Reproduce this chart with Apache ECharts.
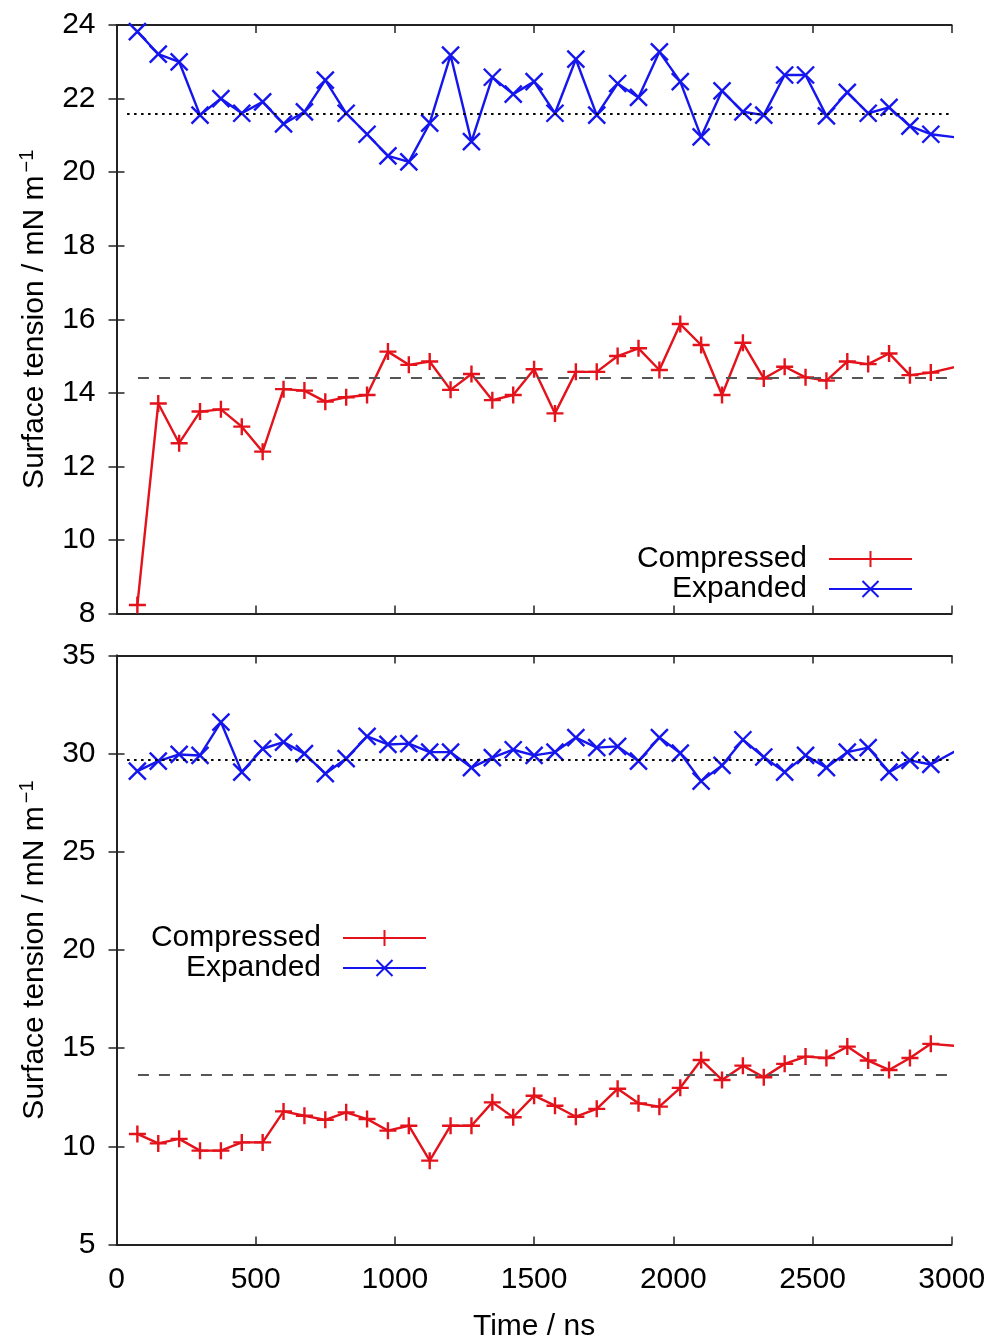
<!DOCTYPE html>
<html>
<head>
<meta charset="utf-8">
<script src="https://cdn.jsdelivr.net/npm/echarts@6/dist/echarts.min.js"></script>
<style>
html,body{margin:0;padding:0;background:#fff;}
#chart{width:995px;height:1338px;}
</style>
</head>
<body>
<div id="chart"></div>
<script>
// ---- data ----
const TIME = [75,150,225,300,375,450,525,600,675,750,825,900,975,1050,1125,1200,1275,1350,1425,1500,
              1575,1650,1725,1800,1875,1950,2025,2100,2175,2250,2325,2400,2475,2550,2625,2700,2775,2850,2925,3075];

const TOP_EXPANDED = [23.82,23.21,23.0,21.55,22.0,21.6,21.91,21.31,21.64,22.5,21.6,21.03,20.44,20.28,21.33,23.18,20.83,22.58,22.12,22.46,
                      21.6,23.07,21.55,22.41,22.03,23.27,22.46,20.96,22.21,21.64,21.55,22.64,22.64,21.53,22.17,21.6,21.76,21.25,21.03,20.89];
const TOP_COMPRESSED = [8.23,13.71,12.63,13.49,13.55,13.08,12.40,14.10,14.06,13.76,13.88,13.94,15.12,14.76,14.85,14.08,14.51,13.80,13.94,14.64,
                        13.44,14.57,14.57,15.0,15.21,14.62,15.87,15.30,13.94,15.36,14.39,14.71,14.42,14.33,14.85,14.78,15.07,14.48,14.55,14.81];
const BOTTOM_EXPANDED = [29.11,29.62,29.96,29.91,31.61,29.06,30.25,30.59,30.0,28.98,29.75,30.88,30.47,30.51,30.08,30.08,29.29,29.8,30.2,29.91,
                         30.08,30.82,30.31,30.37,29.62,30.82,30.03,28.6,29.4,30.71,29.83,29.06,29.91,29.29,30.08,30.31,29.06,29.66,29.45,30.61];
const BOTTOM_COMPRESSED = [10.63,10.15,10.38,9.78,9.78,10.2,10.2,11.78,11.56,11.35,11.73,11.39,10.8,11.05,9.27,11.05,11.05,12.24,11.48,12.58,
                           12.07,11.51,11.91,12.93,12.19,12.02,12.98,14.4,13.38,14.11,13.52,14.2,14.57,14.5,15.08,14.37,13.89,14.5,15.22,15.04];

const TOP_EXPANDED_MEAN = 21.6;
const TOP_COMPRESSED_MEAN = 14.4;
const BOTTOM_EXPANDED_MEAN = 29.7;
const BOTTOM_COMPRESSED_MEAN = 13.65;
const MEAN_START_EXPANDED = 38;
const MEAN_START_COMPRESSED = 77;

const X_RANGE = [0, 3000, 500];
const TOP_Y_RANGE = [8, 24, 2];
const BOTTOM_Y_RANGE = [5, 35, 5];

const NAMES = ['Compressed', 'Expanded'];
const X_TITLE = 'Time / ns';
const Y_TITLE = 'Surface tension / mN m{sup|\u22121}';

// ---- styling ----
const RED = '#e3121b';
const BLUE = '#1515ee';
const FONT = "'Liberation Sans', Arial, Helvetica, sans-serif";
const PLUS = 'path://M5,0L5,10M0,5L10,5';
const CROSS = 'path://M0,0L10,10M10,0L0,10';

function pairs(vals){ return TIME.map((t,i)=>[t, vals[i]]); }

function meanLine(v, start, dotted){
  return {
    silent: true,
    symbol: ['none','none'],
    label: {show:false},
    lineStyle: dotted
      ? {color:'#000', width:1.9, type:[2.5,4.5]}
      : {color:'#555', width:2.2, type:[11,10]},
    data: [[{coord:[start, v]}, {coord:[3000, v]}]]
  };
}

function series(name, vals, xi, yi, mean, start){
  const isRed = name === 'Compressed';
  const c = isRed ? RED : BLUE;
  return {
    name: name,
    type: 'line',
    xAxisIndex: xi, yAxisIndex: yi,
    data: pairs(vals),
    symbol: isRed ? PLUS : CROSS,
    symbolSize: 17,
    clip: true,
    lineStyle: {color: c, width: 2.4},
    itemStyle: {color: 'transparent', borderColor: c, borderWidth: 2.4},
    emphasis: {disabled: true},
    animation: false,
    markLine: meanLine(mean, start, !isRed)
  };
}

const axisLineStyle = {show:true, lineStyle:{color:'#222', width:1.8}};
const tickStyle = {show:true, inside:true, length:8, lineStyle:{color:'#222', width:1.5}};
const labelStyle = {color:'#000', fontSize:30, fontFamily:FONT};

function xAxis(grid, pos, showLabels){
  return {
    type:'value', gridIndex:grid, position:pos,
    min:X_RANGE[0], max:X_RANGE[1], interval:X_RANGE[2],
    axisLine:axisLineStyle, axisTick:tickStyle, splitLine:{show:false},
    axisLabel: showLabels ? Object.assign({margin:20, formatter:(v)=>String(v)}, labelStyle) : {show:false},
    name: showLabels ? X_TITLE : '',
    nameLocation:'middle', nameGap:67,
    nameTextStyle:{color:'#000', fontSize:30, fontFamily:FONT}
  };
}
function yAxis(grid, pos, range, showLabels){
  return {
    type:'value', gridIndex:grid, position:pos,
    min:range[0], max:range[1], interval:range[2],
    axisLine:axisLineStyle, axisTick:tickStyle, splitLine:{show:false},
    axisLabel: showLabels ? Object.assign({margin:21, padding:[5,0,0,0], formatter:(v)=>String(v)}, labelStyle) : {show:false},
    name: showLabels ? Y_TITLE : '',
    nameLocation:'middle', nameGap:65,
    nameTextStyle:{color:'#000', fontSize:30, fontFamily:FONT,
      rich:{sup:{fontSize:20, fontFamily:FONT, color:'#000', verticalAlign:'top', padding:[0,0,14,3]}}}
  };
}

function legend(name, right, top){
  return {
    data:[name], right:right, top:top, orient:'horizontal', align:'right',
    padding:0, itemWidth:83, itemHeight:20, selectedMode:false,
    textStyle:{color:'#000', fontSize:30, fontFamily:FONT, padding:[0,17,0,0]}
  };
}

const chart = echarts.init(document.getElementById('chart'), null, {renderer:'canvas'});
chart.setOption({
  backgroundColor:'#fff',
  animation:false,
  grid:[
    {left:116.5, right:43.3, top:25, height:588.5, containLabel:false, outerBoundsMode:'none'},
    {left:116.5, right:43.3, top:655.5, height:589, containLabel:false, outerBoundsMode:'none'}
  ],
  xAxis:[ xAxis(0,'bottom',false), xAxis(0,'top',false), xAxis(1,'bottom',true), xAxis(1,'top',false) ],
  yAxis:[ yAxis(0,'left',TOP_Y_RANGE,true), yAxis(0,'right',TOP_Y_RANGE,false),
          yAxis(1,'left',BOTTOM_Y_RANGE,true), yAxis(1,'right',BOTTOM_Y_RANGE,false) ],
  legend:[
    legend(NAMES[0], 82, 544), legend(NAMES[1], 82, 574),
    legend(NAMES[0], 568, 923), legend(NAMES[1], 568, 953)
  ],
  series:[
    series(NAMES[0], TOP_COMPRESSED, 0, 0, TOP_COMPRESSED_MEAN, MEAN_START_COMPRESSED),
    series(NAMES[1], TOP_EXPANDED, 0, 0, TOP_EXPANDED_MEAN, MEAN_START_EXPANDED),
    series(NAMES[0], BOTTOM_COMPRESSED, 2, 2, BOTTOM_COMPRESSED_MEAN, MEAN_START_COMPRESSED),
    series(NAMES[1], BOTTOM_EXPANDED, 2, 2, BOTTOM_EXPANDED_MEAN, MEAN_START_EXPANDED)
  ]
});
</script>
</body>
</html>
